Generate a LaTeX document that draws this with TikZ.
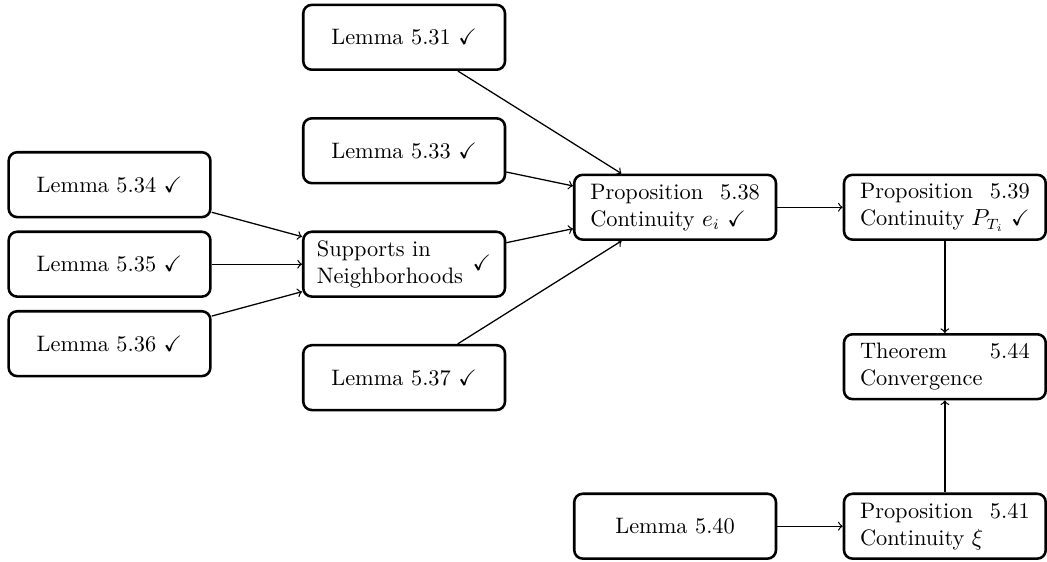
\documentclass[tikz,border=0pt]{standalone}
\usepackage{amssymb}
\usetikzlibrary{positioning}
\begin{document}
\begin{tikzpicture}[
    node distance=0.76cm and 1.08cm,
    lem/.style={draw, very thick, rounded corners=4pt, minimum width=3.33cm, minimum height=1.07cm, align=center, font=\fontsize{10.5}{12.7}\selectfont},
    prop/.style={lem, text width=2.8cm, align=justify},
    flow/.style={->, semithick}
]
\useasboundingbox (-6.67,-4.90) rectangle (10.61,4.36);

\node[prop, text width=2.88cm] (sup) {\parbox{2.45cm}{Supports in\\Neighborhoods}\hfill\checkmark};
\node[lem, above=of sup] (l33) {Lemma 5.33 \checkmark};
\node[lem, above=of l33] (l31) {Lemma 5.31 \checkmark};
\node[lem, below=of sup] (l37) {Lemma 5.37 \checkmark};

\node[lem, left=1.49cm of sup] (l35) {Lemma 5.35 \checkmark};
\node[lem, above=0.2cm of l35] (l34) {Lemma 5.34 \checkmark};
\node[lem, below=0.2cm of l35] (l36) {Lemma 5.36 \checkmark};

\node[prop, right=1.1cm of sup, yshift=0.94cm] (p38) {Proposition 5.38 Continuity $e_i$ \checkmark};
\node[prop, right=of p38] (p39) {Proposition 5.39 Continuity $P_{T_i}$ \checkmark};
\node[prop, below=1.52cm of p39] (t44) {Theorem 5.44 Convergence};
\node[prop, below=1.52cm of t44] (p41) {Proposition 5.41 Continuity $\xi$};
\node[lem, left=of p41] (l40) {Lemma 5.40};

\draw[flow] (l34) -- (sup);
\draw[flow] (l35) -- (sup);
\draw[flow] (l36) -- (sup);

\draw[flow] (l31) -- (p38);
\draw[flow] (l33) -- (p38);
\draw[flow] (sup) -- (p38);
\draw[flow] (l37) -- (p38);

\draw[flow] (p38) -- (p39);
\draw[flow] (p39) -- (t44);
\draw[flow] (p41) -- (t44);
\draw[flow] (l40) -- (p41);
\end{tikzpicture}
\end{document}
